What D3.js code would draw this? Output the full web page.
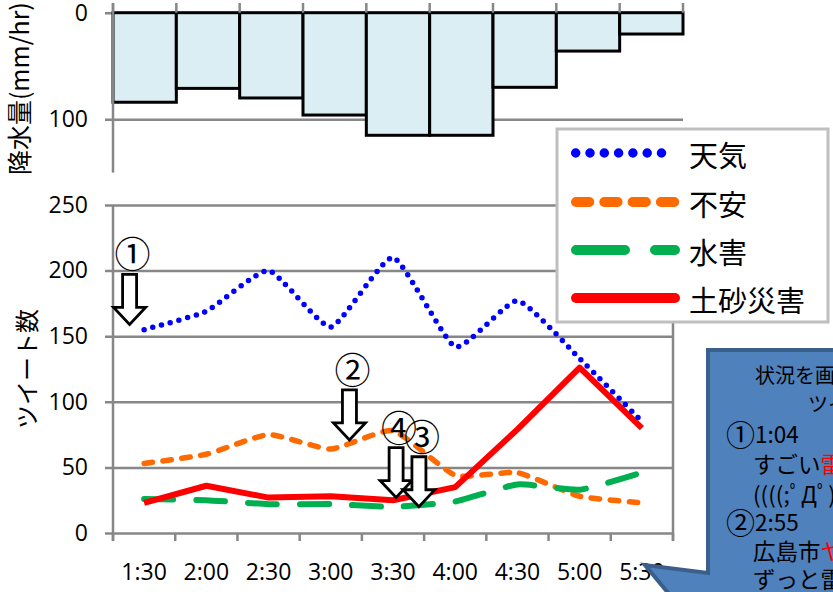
<!DOCTYPE html>
<html><head><meta charset="utf-8">
<script src="https://cdn.jsdelivr.net/npm/d3@7"></script>
<style>body{margin:0;background:#fff;overflow:hidden}</style>
</head><body>
<svg id="c" width="833" height="592"></svg>
<script>
// ---------- data ----------
const categories = ["1:30","2:00","2:30","3:00","3:30","4:00","4:30","5:00","5:30"];
const rainfall   = [84, 71, 80, 96, 115, 115, 70, 36, 20];
const rainTicks  = [0, 100];
const tweetTicks = [0, 50, 100, 150, 200, 250];
const seriesNames = ["天気", "不安", "水害", "土砂災害"];
const tenki  = [155, 169, 200, 157, 210, 142, 177, 133, 85];
const fuan   = [53, 60, 75, 64, 78, 44, 46, 28, 23];
const suigai = [26, 25, 22, 22, 20, 24, 37, 33, 46];
const dosha  = [23, 36, 27, 28, 25, 35, 79, 126, 80];
// annotation arrows: label, time of tip (minutes after 0:00), value at tip
const arrowLabels = ["①", "②", "④", "③"];
const arrowTimes  = [83, 189, 211.5, 222.5];
const arrowValues = [159, 71, 27, 20];
const calloutTitle = ["状況を画像で伝える", "ツイート"];
const calloutBody = [
  [{t:"①",big:true},{t:"1:04"}],
  [{t:"すごい"},{t:"雷",red:true}],
  [{t:"((((;ﾟДﾟ)))"}],
  [{t:"②",big:true},{t:"2:55"}],
  [{t:"広島市"},{t:"ヤバい",red:true}],
  [{t:"ずっと雷"}]
];

// ---------- setup ----------
const svg = d3.select("#c");
const NUM_FONT = "'Open Sans','Noto Sans CJK JP',sans-serif";
const JP_FONT = "'Noto Sans CJK JP',sans-serif";
const GRID = "#878787";
const colors = ["#0000ff", "#ff6a00", "#00b050", "#ff0000"];

// ---------- top chart: rainfall ----------
const xTop = d3.scaleBand().domain(categories).range([113, 683]);
const yTop = d3.scaleLinear().domain([0, 150]).range([12.7, 172.6]);
const gTop = svg.append("g");
gTop.append("g").attr("transform", "translate(113,0)")
  .call(d3.axisLeft(yTop).tickValues(rainTicks).tickSize(-(683 - 113)).tickPadding(25).tickSizeOuter(0))
  .call(g => g.select(".domain").remove())
  .call(g => g.selectAll(".tick line").attr("x1", -8).attr("stroke", GRID).attr("stroke-width", 2.5))
  .call(g => g.selectAll(".tick text").attr("font-family", NUM_FONT).attr("font-size", 23).attr("fill", "#000"));

gTop.selectAll("rect.bar").data(rainfall).join("rect")
  .attr("class", "bar")
  .attr("x", (d, i) => xTop(categories[i]))
  .attr("y", yTop(0))
  .attr("width", xTop.bandwidth())
  .attr("height", d => yTop(d) - yTop(0))
  .attr("fill", "#dbeef4").attr("stroke", "#000").attr("stroke-width", 3);

const topBounds = categories.map(c => xTop(c)).concat([xTop.range()[1]]);
gTop.selectAll("line.tk").data(topBounds).join("line")
  .attr("x1", d => d).attr("x2", d => d).attr("y1", 3).attr("y2", yTop(0))
  .attr("stroke", GRID).attr("stroke-width", 2.5);
gTop.append("line").attr("x1", 113).attr("x2", 113).attr("y1", 3).attr("y2", yTop(150))
  .attr("stroke", GRID).attr("stroke-width", 2.5);
gTop.append("text").attr("transform", `translate(18,${(yTop(0)+yTop(150))/2 - 4}) rotate(-90)`)
  .attr("text-anchor", "middle").attr("dominant-baseline", "central")
  .attr("font-family", JP_FONT).attr("font-size", 25).text("降水量(mm/hr)");

// ---------- bottom chart: tweets ----------
const xBot = d3.scaleBand().domain(categories).range([113, 673]);
const yBot = d3.scaleLinear().domain([0, 250]).range([533, 205]);
const bw = xBot.bandwidth();
const gBot = svg.append("g");
gBot.append("g").attr("transform", "translate(113,0)")
  .call(d3.axisLeft(yBot).tickValues(tweetTicks).tickSize(-(673 - 113)).tickPadding(25).tickSizeOuter(0))
  .call(g => g.select(".domain").remove())
  .call(g => g.selectAll(".tick line").attr("x1", -8).attr("stroke", GRID).attr("stroke-width", 2.5))
  .call(g => g.selectAll(".tick text").attr("font-family", NUM_FONT).attr("font-size", 23).attr("fill", "#000"));

gBot.append("g").attr("transform", "translate(0,533)")
  .call(d3.axisBottom(xBot).tickSize(0).tickPadding(31))
  .call(g => g.select(".domain").remove())
  .call(g => g.selectAll(".tick text").attr("font-family", NUM_FONT).attr("font-size", 23).attr("fill", "#000"));

const botBounds = categories.map(c => xBot(c)).concat([xBot.range()[1]]);
gBot.selectAll("line.tk").data(botBounds).join("line")
  .attr("x1", d => d).attr("x2", d => d).attr("y1", yBot(0)).attr("y2", yBot(0) + 8)
  .attr("stroke", GRID).attr("stroke-width", 2.5);
[113, 673].forEach(x => gBot.append("line").attr("x1", x).attr("x2", x)
  .attr("y1", yBot(250)).attr("y2", yBot(0) + 8).attr("stroke", GRID).attr("stroke-width", 2.5));

gBot.append("text").attr("transform", `translate(25,${(yBot(0)+yBot(250))/2}) rotate(-90)`)
  .attr("text-anchor", "middle").attr("dominant-baseline", "central")
  .attr("font-family", JP_FONT).attr("font-size", 24).text("ツイート数");

const xc = i => xBot(categories[i]) + bw / 2;
const smooth = d3.line().x((d, i) => xc(i)).y(d => yBot(d)).curve(d3.curveCardinal.tension(0.5));
const straight = d3.line().x((d, i) => xc(i)).y(d => yBot(d));

gBot.append("path").attr("d", smooth(fuan)).attr("fill", "none").attr("stroke", colors[1])
  .attr("stroke-width", 5.5).attr("stroke-linecap", "round").attr("stroke-dasharray", "8.5 10.5");
gBot.append("path").attr("d", smooth(suigai)).attr("fill", "none").attr("stroke", colors[2])
  .attr("stroke-width", 6).attr("stroke-linecap", "round").attr("stroke-dasharray", "29 23");
gBot.append("path").attr("d", straight(dosha)).attr("fill", "none").attr("stroke", colors[3])
  .attr("stroke-width", 6).attr("stroke-linejoin", "round");
gBot.append("path").attr("d", smooth(tenki)).attr("fill", "none").attr("stroke", colors[0])
  .attr("stroke-width", 5.5).attr("stroke-linecap", "round").attr("stroke-dasharray", "0 9");

// arrows
const tScale = d3.scaleLinear().domain([90, 90 + 30 * (categories.length - 1)])
  .range([xc(0), xc(categories.length - 1)]);
const gArr = svg.append("g");
arrowLabels.forEach((lab, i) => {
  const tx = tScale(arrowTimes[i]), ty = yBot(arrowValues[i]);
  gArr.append("path")
    .attr("d", `M${tx-7},${ty-50} L${tx+7},${ty-50} L${tx+7},${ty-17} L${tx+16},${ty-17} L${tx},${ty} L${tx-16},${ty-17} L${tx-7},${ty-17} Z`)
    .attr("fill", "#fff").attr("stroke", "#000").attr("stroke-width", 2.8);
  gArr.append("text").attr("x", tx + 3).attr("y", ty - 72)
    .attr("text-anchor", "middle").attr("dominant-baseline", "central")
    .attr("font-family", JP_FONT).attr("font-size", 36).text(lab);
});

// ---------- legend ----------
const gLeg = svg.append("g");
gLeg.append("rect").attr("x", 557).attr("y", 129).attr("width", 271).attr("height", 193)
  .attr("fill", "#fff").attr("stroke", "#bfbfbf").attr("stroke-width", 3);
const legY = [153, 202, 250, 298];
const legStyles = [
  {w: 9.5, dash: "0 14.3", x1: 575.7, x2: 662},
  {w: 10, dash: "13.3 15", x1: 576, x2: 675},
  {w: 10, dash: "49 30", x1: 576, x2: 675},
  {w: 10, dash: null, x1: 576, x2: 675}
];
seriesNames.forEach((name, i) => {
  const s = legStyles[i];
  const ln = gLeg.append("line").attr("x1", s.x1).attr("x2", s.x2).attr("y1", legY[i]).attr("y2", legY[i])
    .attr("stroke", colors[i]).attr("stroke-width", s.w).attr("stroke-linecap", "round");
  if (s.dash) ln.attr("stroke-dasharray", s.dash);
  gLeg.append("text").attr("x", 689).attr("y", legY[i] + 1).attr("dominant-baseline", "central")
    .attr("font-family", JP_FONT).attr("font-size", 29).text(name);
});

// ---------- callout ----------
const gCall = svg.append("g");
gCall.append("path")
  .attr("d", "M708,350 L852,350 L852,600 L674,600 L645,565 L708,573 Z")
  .attr("fill", "#4f81bd").attr("stroke", "#3a5f8b").attr("stroke-width", 4).attr("stroke-linejoin", "miter");
gCall.append("text").attr("x", 755).attr("y", 374).attr("dominant-baseline", "central")
  .attr("font-family", JP_FONT).attr("font-size", 20).text(calloutTitle[0]);
gCall.append("text").attr("x", 808).attr("y", 403).attr("dominant-baseline", "central")
  .attr("font-family", JP_FONT).attr("font-size", 20).text(calloutTitle[1]);
const bodyY = [433, 463, 493, 521, 550, 578];
const bodyX = [726, 753, 753, 726, 753, 753];
calloutBody.forEach((parts, i) => {
  const t = gCall.append("text").attr("x", bodyX[i]).attr("y", bodyY[i]).attr("dominant-baseline", "central")
    .attr("font-family", JP_FONT).attr("font-size", 22.5);
  parts.forEach(p => {
    const ts = t.append("tspan").attr("fill", p.red ? "#ff0000" : "#000").text(p.t);
    if (p.big) ts.attr("font-size", 29);
  });
});
</script>
</body></html>
